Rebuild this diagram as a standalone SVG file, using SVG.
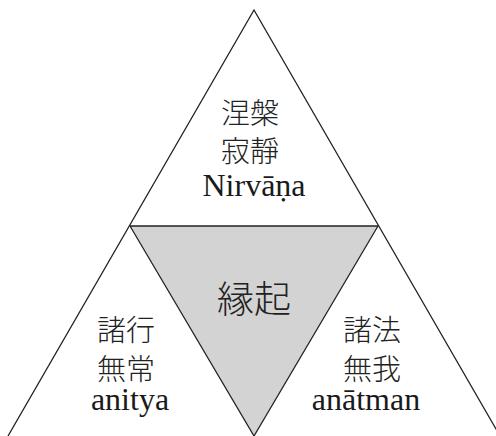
<svg xmlns="http://www.w3.org/2000/svg" width="496" height="436" viewBox="0 0 496 436">
<style>
.ln{fill:none;stroke:#222;stroke-width:1.3}
.cjk{font-family:"Noto Sans CJK JP","Noto Sans CJK SC",sans-serif;font-size:29px;fill:#222;text-anchor:middle;font-weight:300}
.lat{font-family:"Liberation Serif",serif;font-size:32px;fill:#1a1a1a;text-anchor:middle;font-weight:normal}
</style>
<rect width="496" height="436" fill="#fff"/>
<g id="center">
<polygon points="130,226 378,226 254,436" fill="#d3d3d3" stroke="#222" stroke-width="1.3"/>
<text class="cjk" x="254" y="313" style="font-size:37px">縁起</text>
</g>
<g id="connectors">
<polyline class="ln" points="8,436 254,10 500,436"/>
</g>
<g id="top">
<text class="cjk" x="250" y="124">涅槃</text>
<text class="cjk" x="250" y="162">寂靜</text>
<text class="lat" x="254" y="196">Nirvāṇa</text>
</g>
<g id="left">
<text class="cjk" x="126" y="341">諸行</text>
<text class="cjk" x="126" y="380">無常</text>
<text class="lat" x="130" y="410">anitya</text>
</g>
<g id="right">
<text class="cjk" x="372" y="341">諸法</text>
<text class="cjk" x="372" y="380">無我</text>
<text class="lat" x="366" y="410">anātman</text>
</g>
</svg>
